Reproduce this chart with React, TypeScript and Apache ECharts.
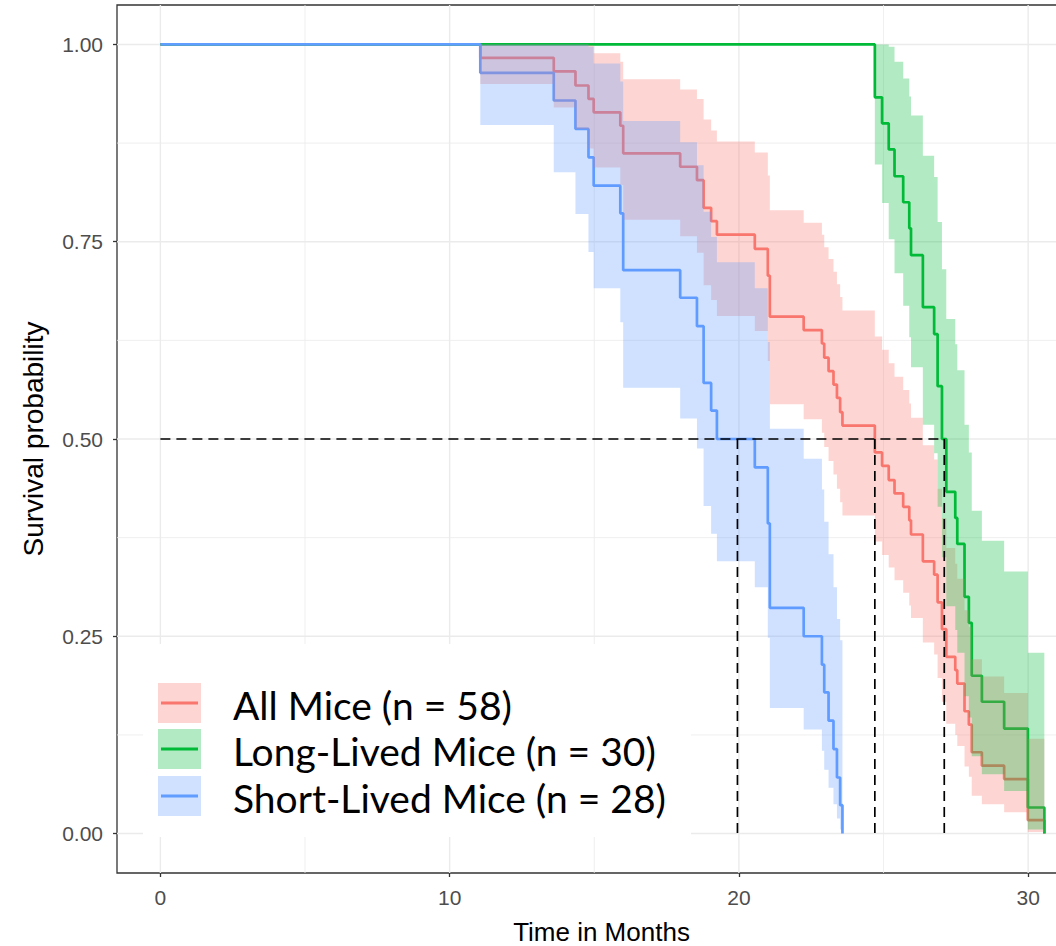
import React, { useEffect, useRef } from "react";
import * as echarts from "echarts";

// ---------- data ----------
const xTicks = [0, 10, 20, 30];
const xMinor = [5, 15, 25];
const yTicks = [0, 0.25, 0.5, 0.75, 1];
const yMinor = [0.125, 0.375, 0.625, 0.875];
const xRange = [-1.5, 32];
const yRange = [-0.05, 1.05];

// All mice (n = 58)
const allT = [0, 11.06, 13.6, 14.35, 14.8, 14.98, 15.9, 16.0, 17.97, 18.55, 18.78, 19.04, 19.24, 20.55, 21.0, 21.07, 22.24, 22.87, 22.95, 23.1, 23.27, 23.39, 23.5, 23.58, 24.7, 24.95, 25.18, 25.38, 25.68, 25.89, 25.95, 26.36, 26.75, 26.87, 27.02, 27.17, 27.48, 27.55, 27.8, 27.95, 28.05, 28.4, 29.17, 29.99, 30.56];
const allS = [1, 0.983, 0.966, 0.948, 0.931, 0.914, 0.897, 0.862, 0.845, 0.828, 0.793, 0.776, 0.759, 0.741, 0.707, 0.655, 0.638, 0.621, 0.603, 0.586, 0.569, 0.552, 0.534, 0.517, 0.483, 0.466, 0.448, 0.431, 0.414, 0.397, 0.379, 0.345, 0.328, 0.293, 0.259, 0.224, 0.207, 0.19, 0.155, 0.138, 0.103, 0.086, 0.069, 0.017, 0];
const allLo = [1, 0.95, 0.92, 0.893, 0.868, 0.844, 0.822, 0.778, 0.757, 0.736, 0.695, 0.676, 0.656, 0.637, 0.599, 0.544, 0.525, 0.508, 0.49, 0.472, 0.455, 0.437, 0.42, 0.403, 0.37, 0.353, 0.337, 0.321, 0.305, 0.289, 0.273, 0.242, 0.227, 0.197, 0.167, 0.139, 0.125, 0.111, 0.085, 0.072, 0.048, 0.037, 0.027, 0.002, null];
const allUp = [1, 1, 1, 1, 0.999, 0.989, 0.978, 0.956, 0.943, 0.931, 0.905, 0.891, 0.877, 0.863, 0.834, 0.79, 0.774, 0.759, 0.743, 0.728, 0.712, 0.696, 0.68, 0.663, 0.63, 0.613, 0.596, 0.579, 0.562, 0.545, 0.527, 0.492, 0.474, 0.437, 0.4, 0.362, 0.342, 0.323, 0.283, 0.262, 0.221, 0.199, 0.178, 0.12, null];

// Long-lived mice (n = 30)
const longT = [0, 24.7, 24.95, 25.18, 25.38, 25.68, 25.89, 25.95, 26.36, 26.75, 26.87, 27.02, 27.17, 27.48, 27.55, 27.8, 27.95, 28.05, 28.4, 29.17, 29.99, 30.56];
const longS = [1, 0.933, 0.9, 0.867, 0.833, 0.8, 0.767, 0.733, 0.667, 0.633, 0.567, 0.5, 0.433, 0.4, 0.367, 0.3, 0.267, 0.2, 0.167, 0.133, 0.033, 0];
const longLo = [1, 0.848, 0.799, 0.753, 0.71, 0.669, 0.629, 0.591, 0.518, 0.482, 0.414, 0.35, 0.288, 0.258, 0.229, 0.174, 0.147, 0.098, 0.075, 0.054, 0.005, null];
const longUp = [1, 1, 1, 0.997, 0.978, 0.957, 0.934, 0.91, 0.859, 0.832, 0.775, 0.715, 0.652, 0.62, 0.587, 0.518, 0.483, 0.409, 0.371, 0.332, 0.229, null];

// Short-lived mice (n = 28)
const shortT = [0, 11.06, 13.6, 14.35, 14.8, 14.98, 15.9, 16.0, 17.97, 18.55, 18.78, 19.04, 19.24, 20.55, 21.0, 21.07, 22.24, 22.87, 22.95, 23.1, 23.27, 23.39, 23.5, 23.58];
const shortS = [1, 0.964, 0.929, 0.893, 0.857, 0.821, 0.786, 0.714, 0.679, 0.643, 0.571, 0.536, 0.5, 0.464, 0.393, 0.286, 0.25, 0.214, 0.179, 0.143, 0.107, 0.071, 0.036, 0];
const shortLo = [1, 0.898, 0.838, 0.785, 0.737, 0.691, 0.648, 0.565, 0.526, 0.488, 0.415, 0.38, 0.345, 0.312, 0.248, 0.159, 0.132, 0.105, 0.081, 0.058, 0.037, 0.019, 0.005, null];
const shortUp = [1, 1, 1, 1, 0.997, 0.976, 0.953, 0.903, 0.876, 0.847, 0.788, 0.756, 0.724, 0.691, 0.623, 0.513, 0.475, 0.436, 0.395, 0.354, 0.312, 0.272, 0.245, null];

// median survival times (dashed guides)
const medians = [19.95, 24.7, 27.1];
const medianLevel = 0.5;

const legendLabels = ["All Mice (n = 58)", "Long-Lived Mice (n = 30)", "Short-Lived Mice (n = 28)"];
const lineColors = ["#F8766D", "#00BA38", "#619CFF"];
const fillColors = ["rgba(248,118,109,0.3)", "rgba(0,186,56,0.3)", "rgba(97,156,255,0.3)"];

const xTitle = "Time in Months";
const yTitle = "Survival probability";

const groups = [
  { T: allT, S: allS, lo: allLo, up: allUp },
  { T: longT, S: longS, lo: longLo, up: longUp },
  { T: shortT, S: shortS, lo: shortLo, up: shortUp },
];

const AXIS_FONT = "'Liberation Sans', Arial, sans-serif";

export default function App() {
  const ref = useRef<HTMLDivElement>(null);

  useEffect(() => {
    if (!ref.current) return;
    const chart = echarts.init(ref.current, null, { renderer: "svg" });

    const gridLine = (data: number[][], width: number) => ({
      type: "line",
      data,
      showSymbol: false,
      symbol: "none",
      silent: true,
      z: 1,
      lineStyle: { color: "#EBEBEB", width },
    });
    const gridSeries: any[] = [
      ...xMinor.map((v) => gridLine([[v, yRange[0]], [v, yRange[1]]], 0.8)),
      ...yMinor.map((v) => gridLine([[xRange[0], v], [xRange[1], v]], 0.8)),
      ...xTicks.map((v) => gridLine([[v, yRange[0]], [v, yRange[1]]], 1.4)),
      ...yTicks.map((v) => gridLine([[xRange[0], v], [xRange[1], v]], 1.4)),
    ];

    const lineSeries = groups.map((g, gi) => ({
      type: "line",
      step: "end",
      data: g.T.map((t, i) => [t, g.S[i]]),
      showSymbol: false,
      symbol: "none",
      silent: true,
      z: 3,
      lineStyle: { color: lineColors[gi], width: 2.7 },
    }));

    const bandSeries = groups.map((g, gi) => ({
      type: "custom",
      coordinateSystem: "cartesian2d",
      data: [[0, 0]],
      silent: true,
      z: 4,
      clip: true,
      renderItem: (params: any, api: any) => {
        const last = g.T.length - 1;
        const pts: number[][] = [];
        for (let i = 1; i < last; i++) {
          pts.push(api.coord([g.T[i], g.up[i]]));
          pts.push(api.coord([g.T[i + 1], g.up[i]]));
        }
        for (let i = last - 1; i >= 1; i--) {
          pts.push(api.coord([g.T[i + 1], g.lo[i]]));
          pts.push(api.coord([g.T[i], g.lo[i]]));
        }
        return {
          type: "polygon",
          shape: { points: pts },
          style: { fill: fillColors[gi], stroke: "none" },
        };
      },
    }));

    const maxMedian = Math.max(...medians);
    const dashStyle = { color: "#000", width: 1.7, type: [10, 6] };
    const medianSeries: any[] = [
      {
        type: "line",
        data: [[0, medianLevel], [maxMedian, medianLevel]],
        showSymbol: false,
        symbol: "none",
        silent: true,
        z: 5,
        lineStyle: dashStyle,
      },
      ...medians.map((m) => ({
        type: "line",
        data: [[m, medianLevel], [m, 0]],
        showSymbol: false,
        symbol: "none",
        silent: true,
        z: 5,
        lineStyle: dashStyle,
      })),
    ];

    const keyTops = [683, 729, 776];
    const legendGraphics: any[] = [
      {
        type: "rect",
        shape: { x: 143, y: 644, width: 548, height: 193 },
        style: { fill: "#FFFFFF" },
        z: 10,
      },
    ];
    legendLabels.forEach((label, i) => {
      const top = keyTops[i];
      const yc = top + 20;
      legendGraphics.push(
        {
          type: "rect",
          shape: { x: 158, y: top, width: 43, height: 40 },
          style: { fill: fillColors[i] },
          z: 11,
        },
        {
          type: "line",
          shape: { x1: 161, y1: yc, x2: 198, y2: yc },
          style: { stroke: lineColors[i], lineWidth: 3 },
          z: 12,
        },
        {
          type: "text",
          x: 233,
          y: yc + 2,
          style: {
            text: label,
            fontSize: 39,
            fontFamily: "Lato, 'Open Sans', sans-serif",
            fill: "#000",
            textVerticalAlign: "middle",
            textAlign: "left",
          },
          z: 12,
        }
      );
    });

    chart.setOption({
      animation: false,
      grid: {
        left: 117,
        top: 5,
        width: 969,
        height: 868,
        show: true,
        borderColor: "#333333",
        borderWidth: 1.3,
        backgroundColor: "transparent",
        containLabel: false,
        outerBoundsMode: "none",
      },
      xAxis: {
        type: "value",
        min: xRange[0],
        max: xRange[1],
        axisLine: { show: false, onZero: false },
        splitLine: { show: false },
        axisTick: {
          show: true,
          customValues: xTicks,
          length: 4,
          inside: false,
          lineStyle: { color: "#333333", width: 1.3 },
        },
        axisLabel: {
          customValues: xTicks,
          color: "#4D4D4D",
          fontSize: 21,
          fontFamily: AXIS_FONT,
          margin: 14,
        },
        name: xTitle,
        nameLocation: "middle",
        nameGap: 46,
        nameTextStyle: { color: "#000", fontSize: 26, fontFamily: AXIS_FONT },
      },
      yAxis: {
        type: "value",
        min: yRange[0],
        max: yRange[1],
        axisLine: { show: false, onZero: false },
        splitLine: { show: false },
        axisTick: {
          show: true,
          customValues: yTicks,
          length: 4,
          inside: false,
          lineStyle: { color: "#333333", width: 1.3 },
        },
        axisLabel: {
          customValues: yTicks,
          color: "#4D4D4D",
          fontSize: 21,
          fontFamily: AXIS_FONT,
          margin: 14,
          formatter: (v: number) => v.toFixed(2),
        },
        name: yTitle,
        nameLocation: "middle",
        nameGap: 70,
        nameTextStyle: { color: "#000", fontSize: 28, fontFamily: AXIS_FONT },
      },
      series: [...gridSeries, ...lineSeries, ...bandSeries, ...medianSeries],
      graphic: legendGraphics,
    });

    return () => chart.dispose();
  }, []);

  return (
    <div
      ref={ref}
      style={{ position: "absolute", left: 0, top: 0, width: 1056, height: 946, background: "#fff" }}
    />
  );
}
